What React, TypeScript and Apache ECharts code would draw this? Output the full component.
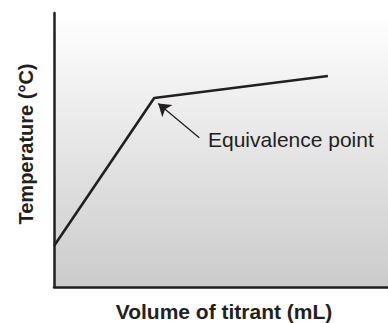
import React, { useEffect, useRef } from "react";
import * as echarts from "echarts";

// Titration curve: volume of titrant (x) vs temperature (y), arbitrary units
const volume = [0, 30, 82];
const temperature = [15, 69, 77];

// Annotation arrow: tail (near label) -> head (equivalence point)
const arrowTail = [43.5, 54.5];
const arrowHead = [31.2, 67.0];
const annotationText = "Equivalence point";

const xTitle = "Volume of titrant (mL)";
const yTitle = "Temperature (°C)";

const ink = "#231f20";
const font = "Liberation Sans, Arial, Helvetica, sans-serif";

const GRID = { left: 54, top: 13, right: 0, bottom: 36 };
const W = 388;
const H = 323;

export default function App() {
  const ref = useRef<HTMLDivElement>(null);

  useEffect(() => {
    if (!ref.current) return;
    const chart = echarts.init(ref.current, null, { renderer: "svg" });
    chart.setOption({
      animation: false,
      backgroundColor: "#ffffff",
      grid: { ...GRID, show: false },
      xAxis: {
        type: "value",
        min: 0,
        max: 100,
        axisLine: { show: true, onZero: false, lineStyle: { color: ink, width: 2.5 } },
        axisTick: { show: false },
        axisLabel: { show: false },
        splitLine: { show: false },
      },
      yAxis: {
        type: "value",
        min: 0,
        max: 100,
        axisLine: { show: true, onZero: false, lineStyle: { color: ink, width: 2.5 } },
        axisTick: { show: false },
        axisLabel: { show: false },
        splitLine: { show: false },
      },
      series: [
        {
          type: "line",
          data: volume.map((v, i) => [v, temperature[i]]),
          symbol: "none",
          lineStyle: { color: ink, width: 2.6 },
          z: 3,
        },
        {
          type: "line",
          data: [],
          markLine: {
            silent: true,
            symbol: ["none", "arrow"],
            symbolSize: 12,
            label: { show: false },
            lineStyle: { color: ink, width: 1.3, type: "solid" },
            data: [[{ coord: arrowTail }, { coord: arrowHead }]],
          },
        },
      ],
      graphic: [
        {
          type: "rect",
          z: -10,
          silent: true,
          shape: {
            x: GRID.left,
            y: GRID.top,
            width: W - GRID.left - GRID.right,
            height: H - GRID.top - GRID.bottom,
          },
          style: {
            fill: new echarts.graphic.LinearGradient(0, 0, 0, 1, [
              { offset: 0, color: "#ffffff" },
              { offset: 1, color: "#cbcbcb" },
            ]),
          },
        },
        {
          type: "text",
          x: 208,
          y: 139,
          style: {
            text: annotationText,
            fontFamily: font,
            fontSize: 21,
            fill: ink,
            verticalAlign: "middle",
          },
        },
        {
          type: "text",
          x: 224,
          y: 311,
          style: {
            text: xTitle,
            fontFamily: font,
            fontSize: 21,
            fontWeight: "bold",
            fill: ink,
            align: "center",
            verticalAlign: "middle",
          },
        },
        {
          type: "text",
          x: 26,
          y: 144,
          rotation: Math.PI / 2,
          style: {
            text: yTitle,
            fontFamily: font,
            fontSize: 20,
            fontWeight: "bold",
            fill: ink,
            align: "center",
            verticalAlign: "middle",
          },
        },
      ],
    });
    return () => chart.dispose();
  }, []);

  return (
    <div
      ref={ref}
      style={{ position: "fixed", left: 0, top: 0, width: W, height: H }}
    />
  );
}
